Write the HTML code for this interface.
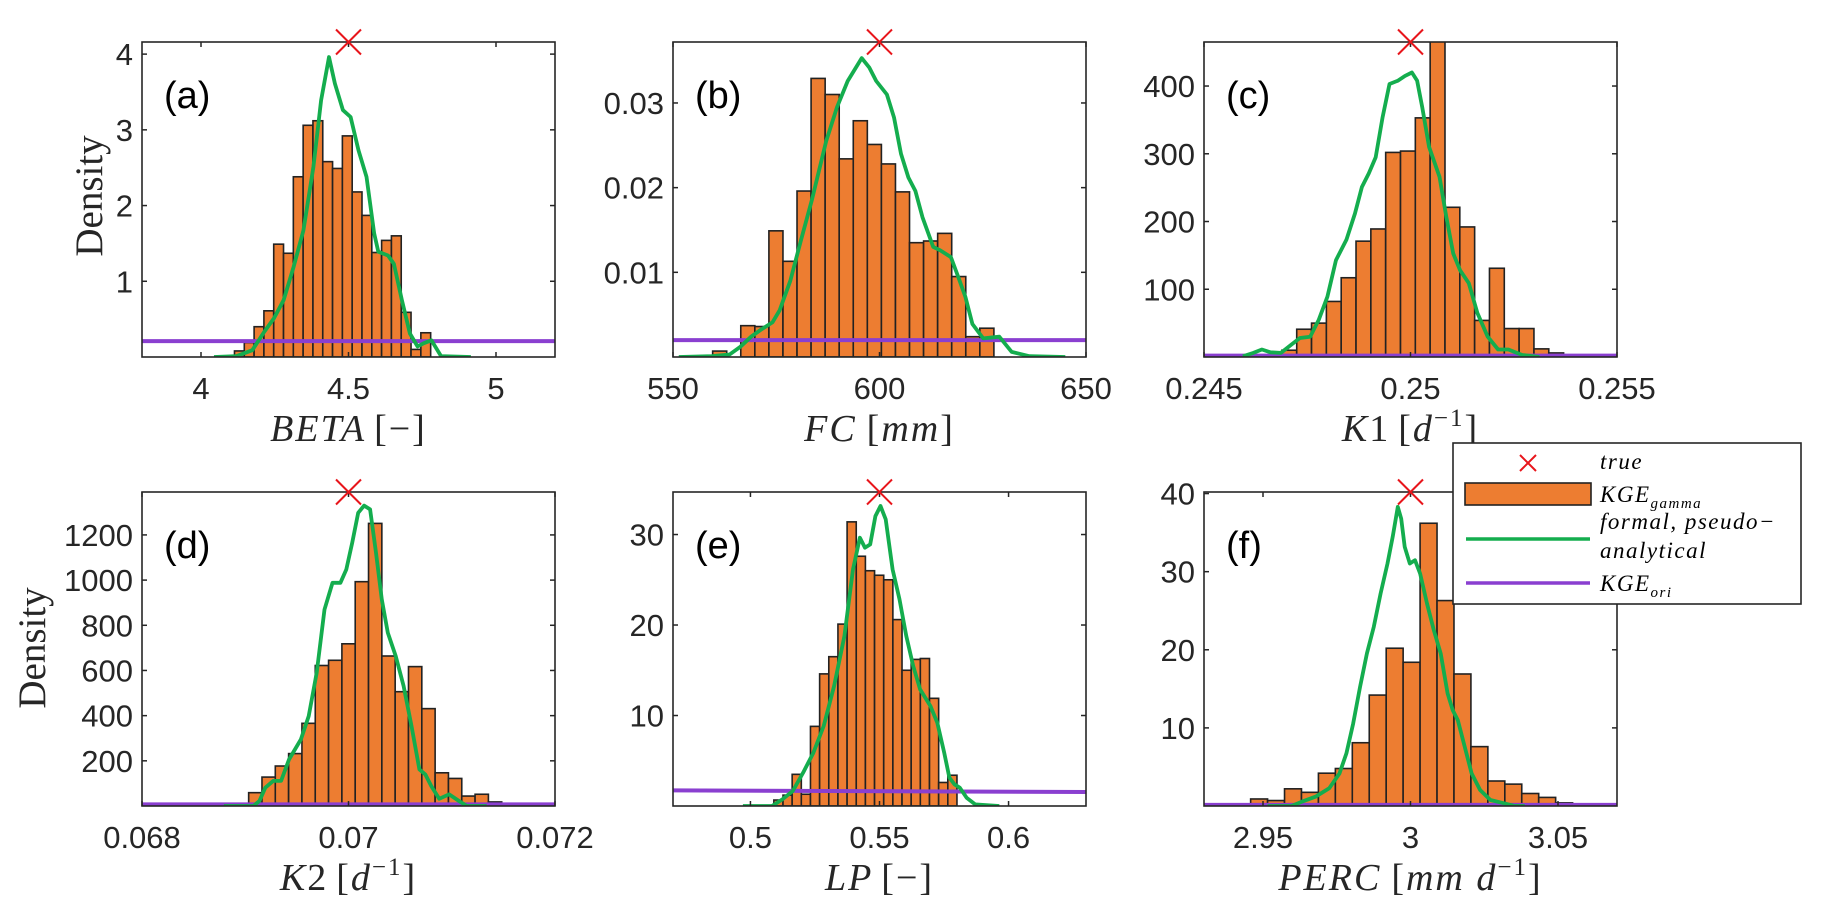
<!DOCTYPE html>
<html><head><meta charset="utf-8"><style>
html,body{margin:0;padding:0;background:#fff;}
svg{display:block;}
.tk{font-family:"Liberation Sans",sans-serif;font-size:31px;fill:#262626;}
.ti{font-family:"Liberation Serif",serif;font-size:38px;fill:#262626;font-style:italic;}
.pl{font-family:"Liberation Sans",sans-serif;font-size:38px;fill:#000;}
.lg{font-family:"Liberation Serif",serif;font-size:23px;font-style:italic;fill:#000;}
</style></head><body>
<svg id="fig" width="1823" height="919" viewBox="0 0 1823 919" xmlns="http://www.w3.org/2000/svg">
<defs id="defs"></defs>
<text transform="translate(102,196) rotate(-90)" text-anchor="middle" font-family="Liberation Serif, serif" font-size="39" fill="#262626">Density</text>
<text transform="translate(45,648) rotate(-90)" text-anchor="middle" font-family="Liberation Serif, serif" font-size="39" fill="#262626">Density</text>
</svg>
<script>
// ---- panel (a) BETA ----
const aBinStart = 4.1135, aBinWidth = 0.03325;
const aBars = [0.08,0.19,0.40,0.61,1.49,1.37,2.38,3.06,3.12,2.58,2.49,2.92,2.18,1.87,1.38,1.54,1.60,0.59,0.10,0.32];
const aKdeX = [4.044,4.120,4.174,4.214,4.247,4.280,4.314,4.347,4.381,4.407,4.434,4.454,4.481,4.507,4.534,4.561,4.587,4.601,4.634,4.654,4.681,4.708,4.734,4.754,4.781,4.814,4.915];
const aKdeY = [0,0.01,0.09,0.33,0.51,0.75,1.19,1.67,2.51,3.39,3.96,3.61,3.26,3.17,2.73,2.38,1.63,1.39,1.34,1.23,0.75,0.31,0.14,0.18,0.22,0.01,0];
const aOri = [0.21,0.21];
const aTrue = 4.5;
const aXTicks = [4,4.5,5], aXTickLabels = ["4","4.5","5"];
const aYTicks = [1,2,3,4], aYTickLabels = ["1","2","3","4"];
// ---- panel (b) FC ----
const bBinStart = 559.6, bBinWidth = 3.405;
const bBars = [0.0007,0,0.0037,0.0036,0.0149,0.0113,0.0196,0.0329,0.0310,0.0234,0.0279,0.0251,0.0228,0.0195,0.0135,0.0137,0.0146,0.0095,0.0024,0.0034];
const bKdeX = [551.4,559.4,563.7,566.3,568.9,571.5,574.1,575.8,578.4,581.0,583.6,587.1,589.7,592.3,595.7,597.5,599.2,601.8,603.5,605.2,607.0,608.7,610.4,613.0,614.7,617.3,619.1,620.8,622.5,625.1,629.0,632.0,636.3,645.0];
const bKdeY = [0,0.0001,0.0003,0.0012,0.0024,0.0033,0.0041,0.0055,0.0090,0.0138,0.0185,0.0255,0.0295,0.0326,0.0353,0.0342,0.0326,0.0310,0.0283,0.0240,0.0212,0.0196,0.0165,0.0130,0.0126,0.0118,0.0094,0.0071,0.0039,0.0022,0.0024,0.0006,0.0001,0];
const bOri = [0.0020,0.0020];
const bTrue = 600;
const bXTicks = [550,600,650], bXTickLabels = ["550","600","650"];
const bYTicks = [0.01,0.02,0.03], bYTickLabels = ["0.01","0.02","0.03"];
// ---- panel (c) K1 ----
const cBinStart = 0.246886, cBinWidth = 0.000359;
const cBars = [10,41,50,82,117,171,189,302,304,353,480,221,192,54,131,42,42,12,6];
const cKdeX = [0.245943,0.246194,0.246402,0.246611,0.246861,0.247112,0.247321,0.247571,0.247780,0.247988,0.248197,0.248447,0.248656,0.248823,0.248990,0.249157,0.249324,0.249491,0.249699,0.249866,0.250033,0.250159,0.250284,0.250451,0.250701,0.250868,0.251035,0.251202,0.251411,0.251619,0.251870,0.252120,0.252371,0.252705,0.253122];
const cKdeY = [1,6,11,7,6,18,28,30,55,89,143,173,212,251,271,295,354,403,408,415,420,408,369,310,266,207,153,128,109,65,30,11,11,3,0];
const cOri = [2,2];
const cTrue = 0.25;
const cXTicks = [0.245,0.25,0.255], cXTickLabels = ["0.245","0.25","0.255"];
const cYTicks = [100,200,300,400], cYTickLabels = ["100","200","300","400"];
// ---- panel (d) K2 ----
const dBinStart = 0.069033, dBinWidth = 0.000129;
const dBars = [59,128,177,232,366,622,645,718,993,1251,664,506,617,431,147,122,44,52,18];
const dKdeX = [0.068792,0.069079,0.069137,0.069194,0.069271,0.069347,0.069424,0.069539,0.069615,0.069692,0.069768,0.069845,0.069922,0.069979,0.070036,0.070094,0.070151,0.070209,0.070266,0.070323,0.070381,0.070457,0.070534,0.070610,0.070687,0.070744,0.070802,0.070878,0.070974,0.071070,0.071146,0.071338];
const dKdeY = [0,0,22,81,111,111,206,295,398,590,870,988,988,1047,1165,1298,1330,1313,1121,914,767,664,531,354,162,140,88,32,52,22,0,0];
const dOri = [7,7];
const dTrue = 0.07;
const dXTicks = [0.068,0.07,0.072], dXTickLabels = ["0.068","0.07","0.072"];
const dYTicks = [200,400,600,800,1000,1200], dYTickLabels = ["200","400","600","800","1000","1200"];
// ---- panel (e) LP ----
const eBinStart = 0.50907, eBinWidth = 0.003547;
const eBars = [0.66,1.2,3.5,1.3,8.8,14.6,16.5,20.1,31.4,27.6,26.0,25.5,25.0,20.6,15.0,16.2,16.3,11.9,2.6,3.4];
const eKdeX = [0.49707,0.50840,0.51240,0.51640,0.52040,0.52440,0.52840,0.53240,0.53640,0.53973,0.54240,0.54440,0.54640,0.54840,0.55040,0.55240,0.55507,0.55773,0.56040,0.56307,0.56573,0.56973,0.57240,0.57507,0.57707,0.57907,0.58107,0.58373,0.58707,0.59640];
const eKdeY = [0,0,0.74,1.66,3.68,5.89,8.84,13.26,18.78,26.15,29.65,28.55,28.91,32.04,33.15,31.68,26.15,22.84,18.78,15.47,12.89,11.05,9.21,5.89,3.13,2.39,2.03,0.92,0.18,0];
const eOri = [1.73,1.55];
const eTrue = 0.55;
const eXTicks = [0.5,0.55,0.6], eXTickLabels = ["0.5","0.55","0.6"];
const eYTicks = [10,20,30], eYTickLabels = ["10","20","30"];
// ---- panel (f) PERC ----
const fBinStart = 2.94581, fBinWidth = 0.005744;
const fBars = [0.9,0.7,2.2,1.75,4.2,4.8,8.1,14.2,20.2,18.4,36.2,26.3,16.9,7.6,3.2,2.8,1.6,1.1,0.4];
const fKdeX = [2.95151,2.95965,2.96314,2.96779,2.97244,2.97593,2.97826,2.98058,2.98291,2.98523,2.98756,2.98988,2.99221,2.99395,2.99570,2.99686,2.99802,2.99977,3.00151,3.00326,3.00558,3.00791,3.01023,3.01256,3.01430,3.01605,3.01837,3.02070,3.02360,3.02709,3.03174,3.03523,3.03872];
const fKdeY = [0,0,0.55,1.19,2.26,4.18,6.74,10.58,15.27,19.53,22.94,27.21,31.04,34.46,38.29,36.80,33.18,31.04,31.47,29.77,25.93,22.52,19.53,14.41,12.28,11.00,7.59,4.18,2.05,0.77,0.34,0,0];
const fOri = [0.15,0.15];
const fTrue = 3.0;
const fXTicks = [2.95,3,3.05], fXTickLabels = ["2.95","3","3.05"];
const fYTicks = [10,20,30,40], fYTickLabels = ["10","20","30","40"];

const NS = "http://www.w3.org/2000/svg";
const svg = document.getElementById('fig');
const defs = document.getElementById('defs');
function mk(tag, attrs, parent){
  const e = document.createElementNS(NS, tag);
  for (const k in attrs) e.setAttribute(k, attrs[k]);
  (parent||svg).appendChild(e);
  return e;
}
const panels = [
 {id:'a',box:[142,42,555,357],xl:[3.8,5.2],yl:[0,4.16],bs:aBinStart,bw:aBinWidth,bars:aBars,kx:aKdeX,ky:aKdeY,ori:aOri,tr:aTrue,xt:aXTicks,xtl:aXTickLabels,yt:aYTicks,ytl:aYTickLabels,
  title:'<tspan>BETA</tspan><tspan font-style="normal" dx="8">[−]</tspan>'},
 {id:'b',box:[673,42,1086,357],xl:[550,650],yl:[0,0.0372],bs:bBinStart,bw:bBinWidth,bars:bBars,kx:bKdeX,ky:bKdeY,ori:bOri,tr:bTrue,xt:bXTicks,xtl:bXTickLabels,yt:bYTicks,ytl:bYTickLabels,
  title:'<tspan>FC</tspan><tspan font-style="normal" dx="10">[</tspan><tspan>mm</tspan><tspan font-style="normal">]</tspan>'},
 {id:'c',box:[1204,42,1617,357],xl:[0.245,0.255],yl:[0,465],bs:cBinStart,bw:cBinWidth,bars:cBars,kx:cKdeX,ky:cKdeY,ori:cOri,tr:cTrue,xt:cXTicks,xtl:cXTickLabels,yt:cYTicks,ytl:cYTickLabels,
  title:'<tspan>K</tspan><tspan font-style="normal">1</tspan><tspan font-style="normal" dx="8">[</tspan><tspan>d</tspan><tspan font-size="25" dy="-15" font-style="normal">−1</tspan><tspan font-style="normal" dy="15">]</tspan>'},
 {id:'d',box:[142,492,555,806],xl:[0.068,0.072],yl:[0,1390],bs:dBinStart,bw:dBinWidth,bars:dBars,kx:dKdeX,ky:dKdeY,ori:dOri,tr:dTrue,xt:dXTicks,xtl:dXTickLabels,yt:dYTicks,ytl:dYTickLabels,
  title:'<tspan>K</tspan><tspan font-style="normal">2</tspan><tspan font-style="normal" dx="8">[</tspan><tspan>d</tspan><tspan font-size="25" dy="-15" font-style="normal">−1</tspan><tspan font-style="normal" dy="15">]</tspan>'},
 {id:'e',box:[673,492,1086,806],xl:[0.47,0.63],yl:[0,34.7],bs:eBinStart,bw:eBinWidth,bars:eBars,kx:eKdeX,ky:eKdeY,ori:eOri,tr:eTrue,xt:eXTicks,xtl:eXTickLabels,yt:eYTicks,ytl:eYTickLabels,
  title:'<tspan>LP</tspan><tspan font-style="normal" dx="8">[−]</tspan>'},
 {id:'f',box:[1204,492,1617,806],xl:[2.93,3.07],yl:[0,40.2],bs:fBinStart,bw:fBinWidth,bars:fBars,kx:fKdeX,ky:fKdeY,ori:fOri,tr:fTrue,xt:fXTicks,xtl:fXTickLabels,yt:fYTicks,ytl:fYTickLabels,
  title:'<tspan>PERC</tspan><tspan font-style="normal" dx="10">[</tspan><tspan>mm d</tspan><tspan font-size="25" dy="-15" font-style="normal">−1</tspan><tspan font-style="normal" dy="15">]</tspan>'}
];
panels.forEach(p=>{
  const [L,T,R,B] = p.box;
  const sx = v => L + (v-p.xl[0])/(p.xl[1]-p.xl[0])*(R-L);
  const sy = v => B - (v-p.yl[0])/(p.yl[1]-p.yl[0])*(B-T);
  const g = mk('g',{});
  
  
  const cp = mk('clipPath',{id:'clip'+p.id},defs);
  mk('rect',{x:L,y:T,width:R-L,height:B-T},cp);
  const inner = mk('g',{'clip-path':'url(#clip'+p.id+')'},g);
  p.bars.forEach((v,i)=>{
    if (v<=0) return;
    const x0 = sx(p.bs+i*p.bw), x1 = sx(p.bs+(i+1)*p.bw);
    const r = mk('rect',{x:x0,y:sy(v),width:x1-x0,height:B-sy(v),fill:'#ED7D31',stroke:'#222','stroke-width':1.6},inner);
    
    
  });
  const o = mk('line',{x1:L,x2:R,y1:sy(p.ori[0]),y2:sy(p.ori[1]),stroke:'#8A3FD0','stroke-width':4},inner);
  
  
  const pts = p.kx.map((x,i)=>sx(x).toFixed(1)+','+sy(p.ky[i]).toFixed(1)).join(' ');
  const k = mk('polyline',{points:pts,fill:'none',stroke:'#14AD4E','stroke-width':3.8,'stroke-linejoin':'round'},inner);
  
  
  const ax = mk('rect',{x:L,y:T,width:R-L,height:B-T,fill:'none',stroke:'#262626','stroke-width':1.6},g);
  
  
  p.xt.forEach((v,i)=>{
    const x = sx(v);
    mk('line',{x1:x,x2:x,y1:B,y2:B-5,stroke:'#262626','stroke-width':1.5},g);
    mk('line',{x1:x,x2:x,y1:T,y2:T+5,stroke:'#262626','stroke-width':1.5},g);
    const t = mk('text',{x:x,y:B+42,'text-anchor':'middle',class:'tk'},g);
    t.textContent = p.xtl[i];
    
    
  });
  p.yt.forEach((v,i)=>{
    const y = sy(v);
    mk('line',{x1:L,x2:L+5,y1:y,y2:y,stroke:'#262626','stroke-width':1.5},g);
    mk('line',{x1:R,x2:R-5,y1:y,y2:y,stroke:'#262626','stroke-width':1.5},g);
    const t = mk('text',{x:L-9,y:y+11,'text-anchor':'end',class:'tk'},g);
    t.textContent = p.ytl[i];
    
    
  });
  const lab = mk('text',{x:L+22,y:T+66,class:'pl'},g);
  lab.textContent = '('+p.id+')';
  
  
  const tx = sx(p.tr), s = 12.5;
  const m = mk('path',{d:`M${tx-s},${T-s}L${tx+s},${T+s}M${tx-s},${T+s}L${tx+s},${T-s}`,stroke:'#E8151B','stroke-width':2,fill:'none'},g);
  
  
  const tt = mk('text',{x:(L+R)/2,y:B+84,'text-anchor':'middle',class:'ti','letter-spacing':'2'},g);
  tt.innerHTML = p.title;
  
  
});
// legend
const lg = mk('g',{});


mk('rect',{x:1453,y:443,width:348,height:161,fill:'#fff',stroke:'#262626','stroke-width':1.6},lg);
mk('path',{d:'M1520,455L1536,471M1520,471L1536,455',stroke:'#E8151B','stroke-width':2,fill:'none'},lg);
mk('rect',{x:1465,y:483,width:126,height:22,fill:'#ED7D31',stroke:'#222','stroke-width':1.6},lg);
mk('line',{x1:1466,x2:1590,y1:539,y2:539,stroke:'#14AD4E','stroke-width':3.5},lg);
mk('line',{x1:1466,x2:1590,y1:583,y2:583,stroke:'#8A3FD0','stroke-width':3.5},lg);
const le = [
 ['legend-entry-true',1600,469,'true'],
 ['legend-entry-kge-gamma',1600,502,'KGE<tspan font-size="15" dy="6">gamma</tspan>'],
 ['legend-entry-formal',1600,529,'formal, pseudo−'],
 ['legend-entry-formal-2',1600,558,'analytical'],
 ['legend-entry-kge-ori',1600,591,'KGE<tspan font-size="15" dy="6">ori</tspan>']
];
le.forEach(e=>{
  const t = mk('text',{x:e[1],y:e[2],class:'lg','letter-spacing':'1.5'},lg);
  t.innerHTML = e[3];
  
  
});
</script>
</body></html>
